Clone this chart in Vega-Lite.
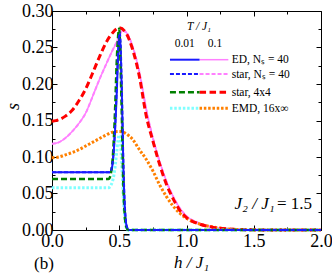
{
  "$schema": "https://vega.github.io/schema/vega-lite/v6.json",
  "width": 269,
  "height": 219,
  "autosize": {"type": "none"},
  "padding": {"left": 52, "top": 11, "right": 11, "bottom": 47},
  "background": "white",
  "config": {
    "view": {"stroke": "black", "strokeWidth": 1},
    "font": "Liberation Serif",
    "text": {"font": "Liberation Serif", "color": "black"},
    "line": {"clip": true, "interpolate": "monotone"},
    "axis": {"grid": false, "domain": false, "tickColor": "black", "labelColor": "black", "labelFont": "Liberation Serif", "labelFontSize": 18, "titleFont": "Liberation Serif", "titleColor": "black", "tickWidth": 1}
  },
  "datasets": {
    "curves": [
      {"sty": "edhi", "id": "c1", "h": 0, "s": 0.118}, {"sty": "edhi", "id": "c1", "h": 0.05, "s": 0.12}, {"sty": "edhi", "id": "c1", "h": 0.1, "s": 0.126}, {"sty": "edhi", "id": "c1", "h": 0.15, "s": 0.135}, {"sty": "edhi", "id": "c1", "h": 0.2, "s": 0.146}, {"sty": "edhi", "id": "c1", "h": 0.25, "s": 0.16}, {"sty": "edhi", "id": "c1", "h": 0.3, "s": 0.182}, {"sty": "edhi", "id": "c1", "h": 0.35, "s": 0.205}, {"sty": "edhi", "id": "c1", "h": 0.4, "s": 0.226}, {"sty": "edhi", "id": "c1", "h": 0.45, "s": 0.246}, {"sty": "edhi", "id": "c1", "h": 0.48, "s": 0.257}, {"sty": "edhi", "id": "c1", "h": 0.5, "s": 0.265}, {"sty": "edhi", "id": "c1", "h": 0.52, "s": 0.273}, {"sty": "edhi", "id": "c1", "h": 0.55, "s": 0.271}, {"sty": "edhi", "id": "c1", "h": 0.6, "s": 0.251}, {"sty": "edhi", "id": "c1", "h": 0.65, "s": 0.216}, {"sty": "edhi", "id": "c1", "h": 0.7, "s": 0.166}, {"sty": "edhi", "id": "c1", "h": 0.75, "s": 0.126}, {"sty": "edhi", "id": "c1", "h": 0.8, "s": 0.094}, {"sty": "edhi", "id": "c1", "h": 0.85, "s": 0.067}, {"sty": "edhi", "id": "c1", "h": 0.9, "s": 0.046}, {"sty": "edhi", "id": "c1", "h": 0.95, "s": 0.03}, {"sty": "edhi", "id": "c1", "h": 1.0, "s": 0.019}, {"sty": "edhi", "id": "c1", "h": 1.1, "s": 0.009}, {"sty": "edhi", "id": "c1", "h": 1.2, "s": 0.004}, {"sty": "edhi", "id": "c1", "h": 1.3, "s": 0.0017}, {"sty": "edhi", "id": "c1", "h": 1.4, "s": 0.0007}, {"sty": "edhi", "id": "c1", "h": 1.5, "s": 0.0003}, {"sty": "edhi", "id": "c1", "h": 1.7, "s": 0}, {"sty": "edhi", "id": "c1", "h": 2.0, "s": 0},

      {"sty": "sthi", "id": "c2", "h": 0, "s": 0.118}, {"sty": "sthi", "id": "c2", "h": 0.05, "s": 0.12}, {"sty": "sthi", "id": "c2", "h": 0.1, "s": 0.126}, {"sty": "sthi", "id": "c2", "h": 0.15, "s": 0.135}, {"sty": "sthi", "id": "c2", "h": 0.2, "s": 0.146}, {"sty": "sthi", "id": "c2", "h": 0.25, "s": 0.16}, {"sty": "sthi", "id": "c2", "h": 0.3, "s": 0.182}, {"sty": "sthi", "id": "c2", "h": 0.35, "s": 0.205}, {"sty": "sthi", "id": "c2", "h": 0.4, "s": 0.226}, {"sty": "sthi", "id": "c2", "h": 0.45, "s": 0.246}, {"sty": "sthi", "id": "c2", "h": 0.48, "s": 0.257}, {"sty": "sthi", "id": "c2", "h": 0.5, "s": 0.265}, {"sty": "sthi", "id": "c2", "h": 0.52, "s": 0.273}, {"sty": "sthi", "id": "c2", "h": 0.55, "s": 0.271}, {"sty": "sthi", "id": "c2", "h": 0.6, "s": 0.251}, {"sty": "sthi", "id": "c2", "h": 0.65, "s": 0.216}, {"sty": "sthi", "id": "c2", "h": 0.7, "s": 0.166}, {"sty": "sthi", "id": "c2", "h": 0.75, "s": 0.126}, {"sty": "sthi", "id": "c2", "h": 0.8, "s": 0.094}, {"sty": "sthi", "id": "c2", "h": 0.85, "s": 0.067}, {"sty": "sthi", "id": "c2", "h": 0.9, "s": 0.046}, {"sty": "sthi", "id": "c2", "h": 0.95, "s": 0.03}, {"sty": "sthi", "id": "c2", "h": 1.0, "s": 0.019}, {"sty": "sthi", "id": "c2", "h": 1.1, "s": 0.009}, {"sty": "sthi", "id": "c2", "h": 1.2, "s": 0.004}, {"sty": "sthi", "id": "c2", "h": 1.3, "s": 0.0017}, {"sty": "sthi", "id": "c2", "h": 1.4, "s": 0.0007}, {"sty": "sthi", "id": "c2", "h": 1.5, "s": 0.0003}, {"sty": "sthi", "id": "c2", "h": 1.7, "s": 0}, {"sty": "sthi", "id": "c2", "h": 2.0, "s": 0},

      {"sty": "emhi", "id": "c3", "h": 0, "s": 0.099}, {"sty": "emhi", "id": "c3", "h": 0.05, "s": 0.1}, {"sty": "emhi", "id": "c3", "h": 0.1, "s": 0.103}, {"sty": "emhi", "id": "c3", "h": 0.15, "s": 0.106}, {"sty": "emhi", "id": "c3", "h": 0.2, "s": 0.11}, {"sty": "emhi", "id": "c3", "h": 0.25, "s": 0.115}, {"sty": "emhi", "id": "c3", "h": 0.3, "s": 0.12}, {"sty": "emhi", "id": "c3", "h": 0.35, "s": 0.125}, {"sty": "emhi", "id": "c3", "h": 0.4, "s": 0.13}, {"sty": "emhi", "id": "c3", "h": 0.45, "s": 0.134}, {"sty": "emhi", "id": "c3", "h": 0.5, "s": 0.135}, {"sty": "emhi", "id": "c3", "h": 0.55, "s": 0.132}, {"sty": "emhi", "id": "c3", "h": 0.6, "s": 0.124}, {"sty": "emhi", "id": "c3", "h": 0.65, "s": 0.11}, {"sty": "emhi", "id": "c3", "h": 0.7, "s": 0.097}, {"sty": "emhi", "id": "c3", "h": 0.75, "s": 0.081}, {"sty": "emhi", "id": "c3", "h": 0.8, "s": 0.062}, {"sty": "emhi", "id": "c3", "h": 0.85, "s": 0.046}, {"sty": "emhi", "id": "c3", "h": 0.9, "s": 0.033}, {"sty": "emhi", "id": "c3", "h": 0.95, "s": 0.023}, {"sty": "emhi", "id": "c3", "h": 1.0, "s": 0.016}, {"sty": "emhi", "id": "c3", "h": 1.1, "s": 0.008}, {"sty": "emhi", "id": "c3", "h": 1.2, "s": 0.004}, {"sty": "emhi", "id": "c3", "h": 1.3, "s": 0.0015}, {"sty": "emhi", "id": "c3", "h": 1.4, "s": 0.0006}, {"sty": "emhi", "id": "c3", "h": 1.5, "s": 0.0002}, {"sty": "emhi", "id": "c3", "h": 1.7, "s": 0}, {"sty": "emhi", "id": "c3", "h": 2.0, "s": 0},

      {"sty": "s4hi", "id": "c4", "h": 0, "s": 0.149}, {"sty": "s4hi", "id": "c4", "h": 0.05, "s": 0.151}, {"sty": "s4hi", "id": "c4", "h": 0.1, "s": 0.156}, {"sty": "s4hi", "id": "c4", "h": 0.15, "s": 0.164}, {"sty": "s4hi", "id": "c4", "h": 0.2, "s": 0.177}, {"sty": "s4hi", "id": "c4", "h": 0.25, "s": 0.193}, {"sty": "s4hi", "id": "c4", "h": 0.3, "s": 0.214}, {"sty": "s4hi", "id": "c4", "h": 0.35, "s": 0.236}, {"sty": "s4hi", "id": "c4", "h": 0.4, "s": 0.256}, {"sty": "s4hi", "id": "c4", "h": 0.45, "s": 0.27}, {"sty": "s4hi", "id": "c4", "h": 0.5, "s": 0.277}, {"sty": "s4hi", "id": "c4", "h": 0.55, "s": 0.27}, {"sty": "s4hi", "id": "c4", "h": 0.6, "s": 0.247}, {"sty": "s4hi", "id": "c4", "h": 0.65, "s": 0.21}, {"sty": "s4hi", "id": "c4", "h": 0.7, "s": 0.157}, {"sty": "s4hi", "id": "c4", "h": 0.75, "s": 0.122}, {"sty": "s4hi", "id": "c4", "h": 0.8, "s": 0.09}, {"sty": "s4hi", "id": "c4", "h": 0.85, "s": 0.063}, {"sty": "s4hi", "id": "c4", "h": 0.9, "s": 0.043}, {"sty": "s4hi", "id": "c4", "h": 0.95, "s": 0.027}, {"sty": "s4hi", "id": "c4", "h": 1.0, "s": 0.017}, {"sty": "s4hi", "id": "c4", "h": 1.1, "s": 0.008}, {"sty": "s4hi", "id": "c4", "h": 1.2, "s": 0.0035}, {"sty": "s4hi", "id": "c4", "h": 1.3, "s": 0.0015}, {"sty": "s4hi", "id": "c4", "h": 1.4, "s": 0.0006}, {"sty": "s4hi", "id": "c4", "h": 1.5, "s": 0.0002}, {"sty": "s4hi", "id": "c4", "h": 1.7, "s": 0}, {"sty": "s4hi", "id": "c4", "h": 2.0, "s": 0},

      {"sty": "emlo", "id": "c5", "h": 0, "s": 0.058}, {"sty": "emlo", "id": "c5", "h": 0.42, "s": 0.058}, {"sty": "emlo", "id": "c5", "h": 0.44, "s": 0.062}, {"sty": "emlo", "id": "c5", "h": 0.46, "s": 0.075}, {"sty": "emlo", "id": "c5", "h": 0.47, "s": 0.088}, {"sty": "emlo", "id": "c5", "h": 0.48, "s": 0.105}, {"sty": "emlo", "id": "c5", "h": 0.49, "s": 0.122}, {"sty": "emlo", "id": "c5", "h": 0.5, "s": 0.13}, {"sty": "emlo", "id": "c5", "h": 0.505, "s": 0.129}, {"sty": "emlo", "id": "c5", "h": 0.51, "s": 0.118}, {"sty": "emlo", "id": "c5", "h": 0.52, "s": 0.085}, {"sty": "emlo", "id": "c5", "h": 0.53, "s": 0.045}, {"sty": "emlo", "id": "c5", "h": 0.54, "s": 0.018}, {"sty": "emlo", "id": "c5", "h": 0.55, "s": 0.005}, {"sty": "emlo", "id": "c5", "h": 0.56, "s": 0}, {"sty": "emlo", "id": "c5", "h": 2.0, "s": 0},

      {"sty": "edlo", "id": "c6", "h": 0, "s": 0.079}, {"sty": "edlo", "id": "c6", "h": 0.43, "s": 0.079}, {"sty": "edlo", "id": "c6", "h": 0.44, "s": 0.081}, {"sty": "edlo", "id": "c6", "h": 0.45, "s": 0.09}, {"sty": "edlo", "id": "c6", "h": 0.46, "s": 0.11}, {"sty": "edlo", "id": "c6", "h": 0.47, "s": 0.14}, {"sty": "edlo", "id": "c6", "h": 0.48, "s": 0.18}, {"sty": "edlo", "id": "c6", "h": 0.49, "s": 0.23}, {"sty": "edlo", "id": "c6", "h": 0.5, "s": 0.262}, {"sty": "edlo", "id": "c6", "h": 0.505, "s": 0.266}, {"sty": "edlo", "id": "c6", "h": 0.51, "s": 0.248}, {"sty": "edlo", "id": "c6", "h": 0.52, "s": 0.18}, {"sty": "edlo", "id": "c6", "h": 0.53, "s": 0.09}, {"sty": "edlo", "id": "c6", "h": 0.54, "s": 0.035}, {"sty": "edlo", "id": "c6", "h": 0.55, "s": 0.01}, {"sty": "edlo", "id": "c6", "h": 0.56, "s": 0.002}, {"sty": "edlo", "id": "c6", "h": 0.57, "s": 0}, {"sty": "edlo", "id": "c6", "h": 2.0, "s": 0},

      {"sty": "s4lo", "id": "c7", "h": 0, "s": 0.07}, {"sty": "s4lo", "id": "c7", "h": 0.42, "s": 0.07}, {"sty": "s4lo", "id": "c7", "h": 0.43, "s": 0.072}, {"sty": "s4lo", "id": "c7", "h": 0.44, "s": 0.08}, {"sty": "s4lo", "id": "c7", "h": 0.45, "s": 0.095}, {"sty": "s4lo", "id": "c7", "h": 0.46, "s": 0.125}, {"sty": "s4lo", "id": "c7", "h": 0.47, "s": 0.17}, {"sty": "s4lo", "id": "c7", "h": 0.48, "s": 0.225}, {"sty": "s4lo", "id": "c7", "h": 0.49, "s": 0.262}, {"sty": "s4lo", "id": "c7", "h": 0.5, "s": 0.276}, {"sty": "s4lo", "id": "c7", "h": 0.51, "s": 0.225}, {"sty": "s4lo", "id": "c7", "h": 0.52, "s": 0.15}, {"sty": "s4lo", "id": "c7", "h": 0.53, "s": 0.065}, {"sty": "s4lo", "id": "c7", "h": 0.54, "s": 0.022}, {"sty": "s4lo", "id": "c7", "h": 0.55, "s": 0.006}, {"sty": "s4lo", "id": "c7", "h": 0.56, "s": 0.001}, {"sty": "s4lo", "id": "c7", "h": 0.57, "s": 0}, {"sty": "s4lo", "id": "c7", "h": 2.0, "s": 0},

      {"sty": "stlo", "id": "c8", "h": 0, "s": 0.079}, {"sty": "stlo", "id": "c8", "h": 0.43, "s": 0.079}, {"sty": "stlo", "id": "c8", "h": 0.44, "s": 0.082}, {"sty": "stlo", "id": "c8", "h": 0.45, "s": 0.092}, {"sty": "stlo", "id": "c8", "h": 0.46, "s": 0.112}, {"sty": "stlo", "id": "c8", "h": 0.47, "s": 0.145}, {"sty": "stlo", "id": "c8", "h": 0.48, "s": 0.19}, {"sty": "stlo", "id": "c8", "h": 0.49, "s": 0.24}, {"sty": "stlo", "id": "c8", "h": 0.5, "s": 0.268}, {"sty": "stlo", "id": "c8", "h": 0.505, "s": 0.27}, {"sty": "stlo", "id": "c8", "h": 0.51, "s": 0.255}, {"sty": "stlo", "id": "c8", "h": 0.52, "s": 0.19}, {"sty": "stlo", "id": "c8", "h": 0.53, "s": 0.1}, {"sty": "stlo", "id": "c8", "h": 0.54, "s": 0.04}, {"sty": "stlo", "id": "c8", "h": 0.55, "s": 0.012}, {"sty": "stlo", "id": "c8", "h": 0.56, "s": 0.003}, {"sty": "stlo", "id": "c8", "h": 0.57, "s": 0}, {"sty": "stlo", "id": "c8", "h": 2.0, "s": 0},

      {"sty": "edlo", "id": "k1", "h": 0.877, "s": 0.2333}, {"sty": "edlo", "id": "k1", "h": 1.097, "s": 0.2333},
      {"sty": "edhi", "id": "k2", "h": 1.097, "s": 0.2333}, {"sty": "edhi", "id": "k2", "h": 1.311, "s": 0.2333},
      {"sty": "stlo", "id": "k3", "h": 0.877, "s": 0.2137}, {"sty": "stlo", "id": "k3", "h": 1.097, "s": 0.2137},
      {"sty": "sthi", "id": "k4", "h": 1.097, "s": 0.2137}, {"sty": "sthi", "id": "k4", "h": 1.311, "s": 0.2137},
      {"sty": "s4lo", "id": "k5", "h": 0.877, "s": 0.1886}, {"sty": "s4lo", "id": "k5", "h": 1.097, "s": 0.1886},
      {"sty": "s4hi", "id": "k6", "h": 1.097, "s": 0.1886}, {"sty": "s4hi", "id": "k6", "h": 1.311, "s": 0.1886},
      {"sty": "emlo", "id": "k7", "h": 0.877, "s": 0.1667}, {"sty": "emlo", "id": "k7", "h": 1.097, "s": 0.1667},
      {"sty": "emhi", "id": "k8", "h": 1.097, "s": 0.1667}, {"sty": "emhi", "id": "k8", "h": 1.311, "s": 0.1667}
    ],
    "legendText": [
      {"t": "ED, Nₛ = 40", "h": 1.336, "s": 0.2285},
      {"t": "star, Nₛ = 40", "h": 1.336, "s": 0.2089},
      {"t": "star, 4x4", "h": 1.336, "s": 0.1838},
      {"t": "EMD, 16x∞", "h": 1.336, "s": 0.1619}
    ],
    "tempText": [
      {"t": "0.01", "h": 0.9866, "s": 0.2511},
      {"t": "0.1", "h": 1.212, "s": 0.2511}
    ],
    "headText": [
      {"t": "T / J₁", "h": 1.093, "s": 0.274}
    ],
    "ratioItalic": [
      {"t": "J₂ / J₁", "h": 1.655, "s": 0.0288}
    ],
    "ratioValue": [
      {"t": "= 1.5", "h": 1.672, "s": 0.0288}
    ],
    "panelText": [
      {"t": "(b)", "h": -0.0595, "s": -0.0534}
    ]
  },
  "layer": [
    {
      "data": {"name": "curves"},
      "transform": [{"filter": "datum.sty === 'edhi'"}],
      "mark": {"type": "line", "color": "#ff80ff", "strokeWidth": 1.5},
      "encoding": {
        "x": {"field": "h", "type": "quantitative", "scale": {"domain": [0, 2], "nice": false, "zero": false},
          "axis": {"orient": "bottom", "values": [0, 0.25, 0.5, 0.75, 1, 1.25, 1.5, 1.75, 2],
            "labelExpr": "abs(datum.value*2 - round(datum.value*2)) < 0.001 ? format(datum.value, '.1f') : ''",
            "tickSize": {"condition": {"test": "abs(datum.value*2 - round(datum.value*2)) < 0.001", "value": -5}, "value": -3},
            "labelPadding": 7, "labelFlush": false,
            "title": "h / J₁", "titleFontSize": 17, "titleFontStyle": "italic", "titleFontWeight": "normal",
            "titleX": 139, "titleY": 37, "titleBaseline": "alphabetic", "titleAlign": "center"}},
        "y": {"field": "s", "type": "quantitative", "scale": {"domain": [0, 0.3], "nice": false, "zero": false},
          "axis": {"orient": "left", "values": [0, 0.025, 0.05, 0.075, 0.1, 0.125, 0.15, 0.175, 0.2, 0.225, 0.25, 0.275, 0.3],
            "labelExpr": "abs(datum.value*20 - round(datum.value*20)) < 0.001 ? format(datum.value, '.2f') : ''",
            "tickSize": {"condition": {"test": "abs(datum.value*20 - round(datum.value*20)) < 0.001", "value": -5}, "value": -3},
            "labelPadding": 4, "labelFlush": false,
            "title": "s", "titleFontSize": 18, "titleFontStyle": "italic", "titleFontWeight": "normal",
            "titleX": -39, "titleY": 95, "titleBaseline": "middle", "titleAlign": "center"}},
        "detail": {"field": "id", "type": "nominal"}
      }
    },
    {
      "data": {"name": "curves"},
      "transform": [{"filter": "datum.sty === 'sthi'"}],
      "mark": {"type": "line", "color": "#ff80ff", "strokeWidth": 2, "strokeDash": [4, 2]},
      "encoding": {
        "x": {"field": "h", "type": "quantitative", "axis": null},
        "y": {"field": "s", "type": "quantitative", "axis": null},
        "detail": {"field": "id", "type": "nominal"}
      }
    },
    {
      "data": {"name": "curves"},
      "transform": [{"filter": "datum.sty === 'emhi'"}],
      "mark": {"type": "line", "color": "#ff8000", "strokeWidth": 3, "strokeDash": [2.5, 1.8]},
      "encoding": {
        "x": {"field": "h", "type": "quantitative", "axis": null},
        "y": {"field": "s", "type": "quantitative", "axis": null},
        "detail": {"field": "id", "type": "nominal"}
      }
    },
    {
      "data": {"name": "curves"},
      "transform": [{"filter": "datum.sty === 's4hi'"}],
      "mark": {"type": "line", "color": "#ff0000", "strokeWidth": 3, "strokeDash": [6.5, 3.5]},
      "encoding": {
        "x": {"field": "h", "type": "quantitative", "axis": null},
        "y": {"field": "s", "type": "quantitative", "axis": null},
        "detail": {"field": "id", "type": "nominal"}
      }
    },
    {
      "data": {"name": "curves"},
      "transform": [{"filter": "datum.sty === 'emlo'"}],
      "mark": {"type": "line", "color": "#80ffff", "strokeWidth": 3, "strokeDash": [2.5, 1.8]},
      "encoding": {
        "x": {"field": "h", "type": "quantitative", "axis": null},
        "y": {"field": "s", "type": "quantitative", "axis": null},
        "detail": {"field": "id", "type": "nominal"}
      }
    },
    {
      "data": {"name": "curves"},
      "transform": [{"filter": "datum.sty === 'edlo'"}],
      "mark": {"type": "line", "color": "#1a1aff", "strokeWidth": 2},
      "encoding": {
        "x": {"field": "h", "type": "quantitative", "axis": null},
        "y": {"field": "s", "type": "quantitative", "axis": null},
        "detail": {"field": "id", "type": "nominal"}
      }
    },
    {
      "data": {"name": "curves"},
      "transform": [{"filter": "datum.sty === 's4lo'"}],
      "mark": {"type": "line", "color": "#008000", "strokeWidth": 2.5, "strokeDash": [6, 3]},
      "encoding": {
        "x": {"field": "h", "type": "quantitative", "axis": null},
        "y": {"field": "s", "type": "quantitative", "axis": null},
        "detail": {"field": "id", "type": "nominal"}
      }
    },
    {
      "data": {"name": "curves"},
      "transform": [{"filter": "datum.sty === 'stlo'"}],
      "mark": {"type": "line", "color": "#1a1aff", "strokeWidth": 2, "strokeDash": [4, 2]},
      "encoding": {
        "x": {"field": "h", "type": "quantitative", "axis": null},
        "y": {"field": "s", "type": "quantitative", "axis": null},
        "detail": {"field": "id", "type": "nominal"}
      }
    },
    {
      "data": {"name": "legendText"},
      "mark": {"type": "text", "align": "left", "baseline": "alphabetic", "fontSize": 11.5},
      "encoding": {
        "x": {"field": "h", "type": "quantitative",
          "axis": {"orient": "top", "values": [0, 0.25, 0.5, 0.75, 1, 1.25, 1.5, 1.75, 2], "labels": false, "title": null,
            "tickSize": {"condition": {"test": "abs(datum.value*2 - round(datum.value*2)) < 0.001", "value": -5}, "value": -3}}},
        "y": {"field": "s", "type": "quantitative",
          "axis": {"orient": "right", "values": [0, 0.025, 0.05, 0.075, 0.1, 0.125, 0.15, 0.175, 0.2, 0.225, 0.25, 0.275, 0.3], "labels": false, "title": null,
            "tickSize": {"condition": {"test": "abs(datum.value*20 - round(datum.value*20)) < 0.001", "value": -5}, "value": -3}}},
        "text": {"field": "t"}
      }
    },
    {
      "data": {"name": "tempText"},
      "mark": {"type": "text", "align": "center", "baseline": "alphabetic", "fontSize": 11.5},
      "encoding": {
        "x": {"field": "h", "type": "quantitative", "axis": null},
        "y": {"field": "s", "type": "quantitative", "axis": null},
        "text": {"field": "t"}
      }
    },
    {
      "data": {"name": "headText"},
      "mark": {"type": "text", "align": "center", "baseline": "alphabetic", "fontSize": 11.5, "fontStyle": "italic"},
      "encoding": {
        "x": {"field": "h", "type": "quantitative", "axis": null},
        "y": {"field": "s", "type": "quantitative", "axis": null},
        "text": {"field": "t"}
      }
    },
    {
      "data": {"name": "ratioItalic"},
      "mark": {"type": "text", "align": "right", "baseline": "alphabetic", "fontSize": 17, "fontStyle": "italic"},
      "encoding": {
        "x": {"field": "h", "type": "quantitative", "axis": null},
        "y": {"field": "s", "type": "quantitative", "axis": null},
        "text": {"field": "t"}
      }
    },
    {
      "data": {"name": "ratioValue"},
      "mark": {"type": "text", "align": "left", "baseline": "alphabetic", "fontSize": 17},
      "encoding": {
        "x": {"field": "h", "type": "quantitative", "axis": null},
        "y": {"field": "s", "type": "quantitative", "axis": null},
        "text": {"field": "t"}
      }
    },
    {
      "data": {"name": "panelText"},
      "mark": {"type": "text", "align": "center", "baseline": "alphabetic", "fontSize": 17},
      "encoding": {
        "x": {"field": "h", "type": "quantitative", "axis": null},
        "y": {"field": "s", "type": "quantitative", "axis": null},
        "text": {"field": "t"}
      }
    }
  ],
  "resolve": {"axis": {"x": "independent", "y": "independent"}}
}
